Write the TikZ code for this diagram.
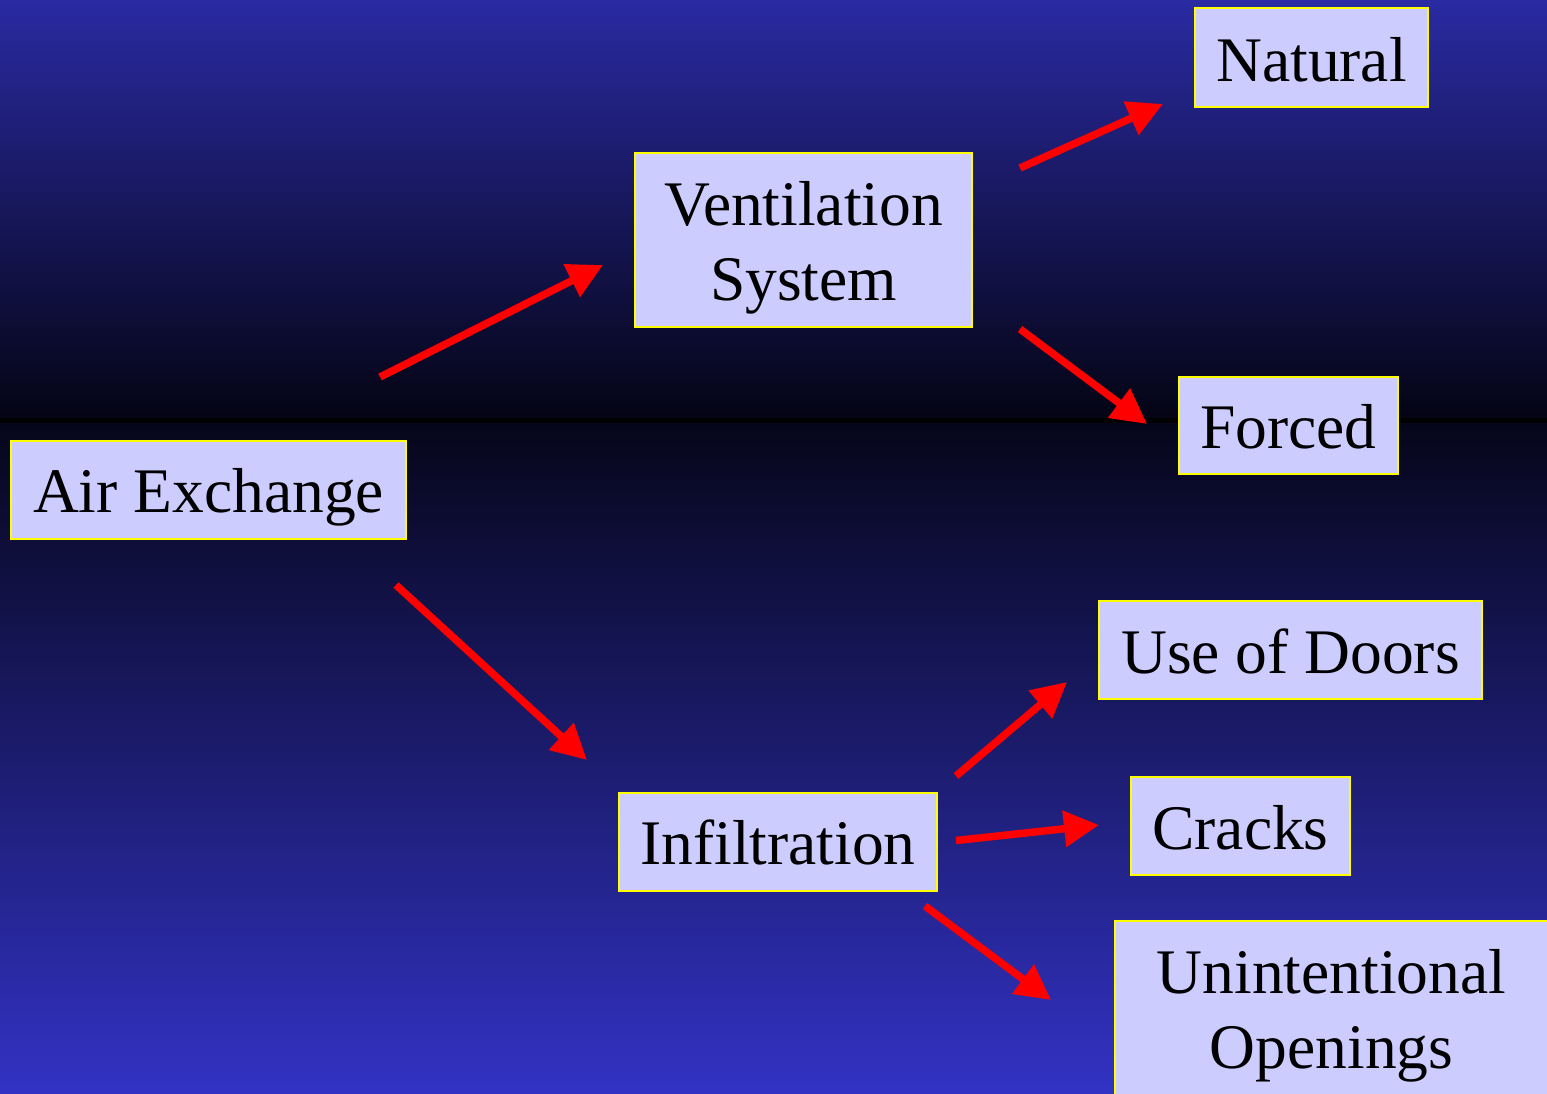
\documentclass[tikz,border=0pt]{standalone}
\usepackage{fontspec}
\setmainfont{Liberation Serif}
\usetikzlibrary{arrows.meta}
\definecolor{bgtop}{RGB}{42,42,162}
\definecolor{bgmidtop}{RGB}{4,4,20}
\definecolor{bgmidbot}{RGB}{6,6,26}
\definecolor{bgbot}{RGB}{50,50,196}
\definecolor{boxfill}{RGB}{204,204,255}
\definecolor{boxline}{RGB}{255,255,0}
\newcommand\lbl[2]{\raisebox{#1}[0pt][0pt]{\begin{tabular}[t]{@{}c@{}}#2\end{tabular}}}
\tikzset{
  itembox/.style={draw=boxline, line width=2pt, fill=boxfill, rectangle, inner sep=0pt, outer sep=0pt,
    font=\fontsize{63.5}{75}\selectfont, text=black},
  flowarrow/.style={draw=red, line width=7.5pt, -{Triangle[length=35pt,width=35pt]}}
}
\begin{document}
\begin{tikzpicture}[x=1pt,y=-1pt]
\useasboundingbox (0,0) rectangle (1547,1093);
\shade[top color=bgtop, bottom color=bgmidtop] (0,0) rectangle (1547,419);
\fill[black] (0,418) rectangle (1547,424);
\shade[top color=bgmidbot, bottom color=bgbot] (0,423) rectangle (1547,1093);

\node[itembox, minimum width=233pt, minimum height=99pt] (natural) at (1311.5,57.5) {\lbl{-23.5pt}{Natural}};
\node[itembox, minimum width=337pt, minimum height=174pt] (vent) at (803.5,240) {\lbl{15pt}{Ventilation\\System}};
\node[itembox, minimum width=219pt, minimum height=97pt] (forced) at (1288.5,425.5) {\lbl{-23pt}{Forced}};
\node[itembox, minimum width=395pt, minimum height=98pt] (air) at (208.5,490) {\lbl{-22.5pt}{Air Exchange}};
\node[itembox, minimum width=383pt, minimum height=98pt] (doors) at (1290.5,650) {\lbl{-23pt}{Use of Doors}};
\node[itembox, minimum width=219pt, minimum height=98pt] (cracks) at (1240.5,826) {\lbl{-23pt}{Cracks}};
\node[itembox, minimum width=318pt, minimum height=98pt] (infil) at (778,842) {\lbl{-22pt}{Infiltration}};
\node[itembox, minimum width=433pt, minimum height=175pt] (unint) at (1331.5,1008.5) {\lbl{15.5pt}{Unintentional\\Openings}};

\coordinate (a1s) at (380,377);   \coordinate (a1e) at (603,265);
\coordinate (a2s) at (396,585);   \coordinate (a2e) at (587,760);
\coordinate (a3s) at (1020,168);  \coordinate (a3e) at (1163,104);
\coordinate (a4s) at (1020,329);  \coordinate (a4e) at (1147,424);
\coordinate (a5s) at (956,776);   \coordinate (a5e) at (1067,682);
\coordinate (a6s) at (956,840.5); \coordinate (a6e) at (1099,825);
\coordinate (a7s) at (925,906);   \coordinate (a7e) at (1051,1000);

\draw[flowarrow] (a1s) -- (a1e);
\draw[flowarrow] (a2s) -- (a2e);
\draw[flowarrow] (a3s) -- (a3e);
\draw[flowarrow] (a4s) -- (a4e);
\draw[flowarrow] (a5s) -- (a5e);
\draw[flowarrow] (a6s) -- (a6e);
\draw[flowarrow] (a7s) -- (a7e);
\end{tikzpicture}
\end{document}
